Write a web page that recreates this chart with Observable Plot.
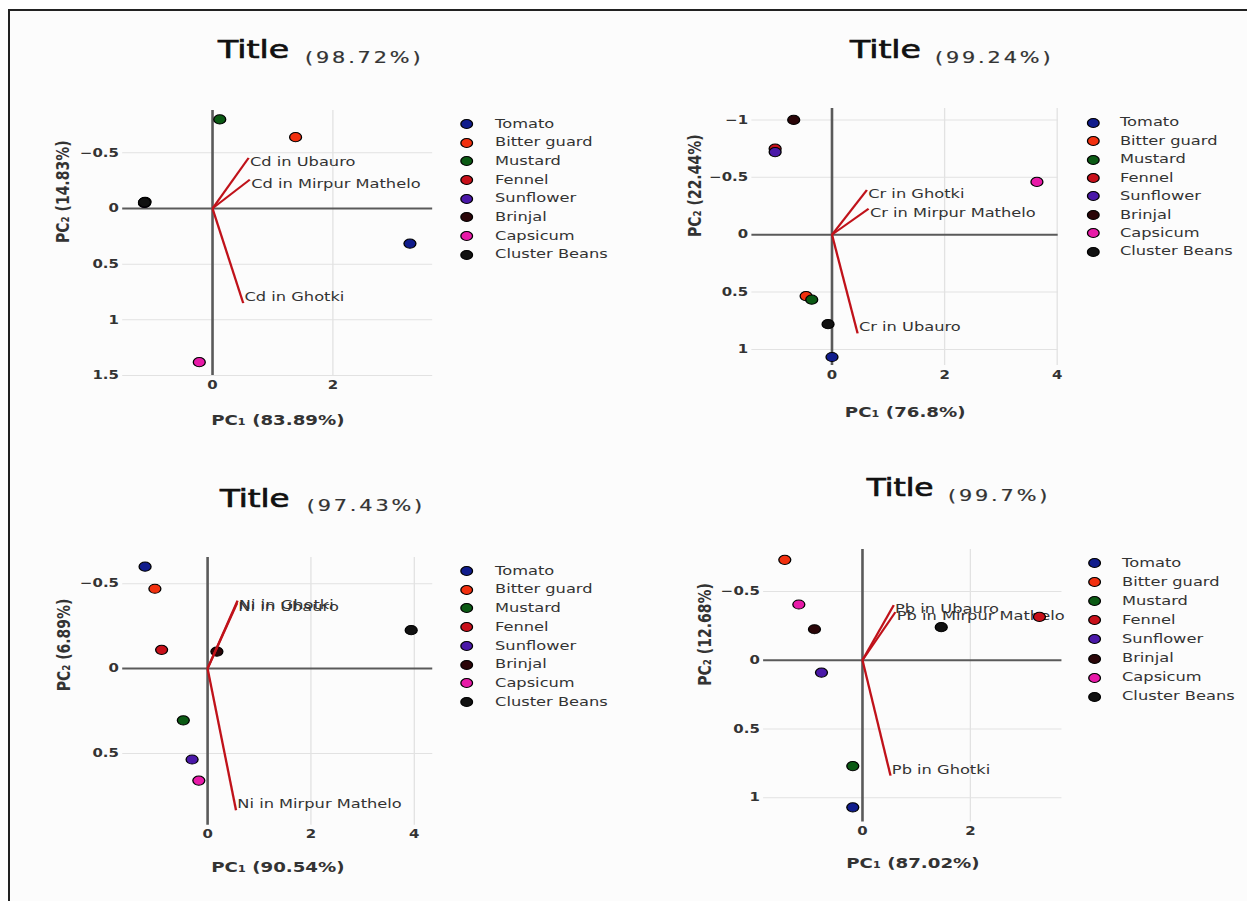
<!DOCTYPE html>
<html>
<head>
<meta charset="utf-8">
<script src="https://cdn.jsdelivr.net/npm/d3@7"></script>
<script src="https://cdn.jsdelivr.net/npm/@observablehq/plot@0.6"></script>
<style>
html, body { margin: 0; padding: 0; background: #fff; }
#page { position: relative; width: 1247px; height: 901px; overflow: hidden; background: #fff; }
#frame { position: absolute; left: 8px; top: 9px; width: 1245px; height: 900px; border-left: 2px solid #222; border-top: 2px solid #222; background: #fcfcfc; }
#stage { position: absolute; left: 0; top: 0; width: 960px; height: 901px; transform: scaleX(1.3); transform-origin: 0 0; font-family: "DejaVu Sans", sans-serif; }
.panel { position: absolute; }
.ttl { position: absolute; white-space: nowrap; line-height: 1; color: #111; -webkit-text-stroke: 0.7px #111; }
.pct { position: absolute; white-space: nowrap; line-height: 1; font-size: 16px; letter-spacing: 2.2px; color: #333; -webkit-text-stroke: 0.2px #333; }
.legend { position: absolute; }
.lrow { position: absolute; left: 0; height: 12px; display: flex; align-items: center; white-space: nowrap; }
.ldot { display: inline-block; width: 10px; height: 10px; box-sizing: border-box; border: 1px solid #000; border-radius: 50%; }
.ltxt { font-size: 12.5px; color: #333; line-height: 1; }
</style>
</head>
<body>
<div id="page">
  <div id="frame"></div>
  <div id="stage"></div>
</div>
<script>
// ---------- data ----------
const species = ["Tomato", "Bitter guard", "Mustard", "Fennel", "Sunflower", "Brinjal", "Capsicum", "Cluster Beans"];
const speciesColors = ["#101c8c", "#f2300f", "#0b5a14", "#c8101a", "#4a18a8", "#2a0508", "#e81aa8", "#111111"];

const titleWords = ["Title", "Title", "Title", "Title"];
const titlePercents = ["(98.72%)", "(99.24%)", "(97.43%)", "(99.7%)"];
const xTitles = ["PC\u2081 (83.89%)", "PC\u2081 (76.8%)", "PC\u2081 (90.54%)", "PC\u2081 (87.02%)"];
const yTitles = ["PC\u2082 (14.83%)", "PC\u2082 (22.44%)", "PC\u2082 (6.89%)", "PC\u2082 (12.68%)"];

// Cd
const cdPC1 = [3.28, 1.38, 0.12, -1.13, -1.13, -1.12, -0.22, -1.13];
const cdPC2 = [0.315, -0.64, -0.80, -0.05, -0.05, -0.06, 1.38, -0.055];
const cdLoadNames = ["Cd in Ghotki", "Cd in Ubauro", "Cd in Mirpur Mathelo"];
const cdLoadPC1 = [0.51, 0.60, 0.62];
const cdLoadPC2 = [0.85, -0.455, -0.26];
const cdXTicks = [0, 2];
const cdYTicks = [-0.5, 0, 0.5, 1, 1.5];

// Cr
const crPC1 = [0.0, -0.46, -0.36, -1.01, -1.01, -0.68, 3.64, -0.07];
const crPC2 = [1.066, 0.535, 0.566, -0.75, -0.72, -1.0, -0.46, 0.78];
const crLoadNames = ["Cr in Ghotki", "Cr in Mirpur Mathelo", "Cr in Ubauro"];
const crLoadPC1 = [0.62, 0.65, 0.455];
const crLoadPC2 = [-0.39, -0.226, 0.86];
const crXTicks = [0, 2, 4];
const crYTicks = [-1, -0.5, 0, 0.5, 1];

// Ni
const niPC1 = [-1.21, -1.02, -0.47, -0.89, -0.30, 0.18, -0.17, 3.94];
const niPC2 = [-0.60, -0.47, 0.305, -0.11, 0.536, -0.10, 0.66, -0.226];
const niLoadNames = ["Ni in Ghotki", "Ni in Ubauro", "Ni in Mirpur Mathelo"];
const niLoadPC1 = [0.58, 0.57, 0.55];
const niLoadPC2 = [-0.40, -0.385, 0.835];
const niXTicks = [0, 2, 4];
const niYTicks = [-0.5, 0, 0.5];

// Pb
const pbPC1 = [-0.18, -1.44, -0.18, 3.28, -0.76, -0.89, -1.18, 1.46];
const pbPC2 = [1.07, -0.73, 0.77, -0.315, 0.09, -0.225, -0.405, -0.24];
const pbLoadNames = ["Pb in Ghotki", "Pb in Ubauro", "Pb in Mirpur Mathelo"];
const pbLoadPC1 = [0.52, 0.58, 0.61];
const pbLoadPC2 = [0.84, -0.40, -0.35];
const pbXTicks = [0, 2];
const pbYTicks = [-0.5, 0, 0.5, 1];

// ---------- layout (container units; the stage is stretched 1.3x horizontally) ----------
const layout = [
  {pc1: cdPC1, pc2: cdPC2, ln: cdLoadNames, l1: cdLoadPC1, l2: cdLoadPC2, xt: cdXTicks, yt: cdYTicks,
   left: 33.85, top: 100, w: 308.45, h: 345, xd: [-1.49, 3.66], yd: [-0.88, 1.5], yDx: -45.7, xDy: 50,
   tL: 167.7, tB: 59, tSize: 25.5, pL: 234.6, pB: 63.3,
   lgX: 353.5, lgT: 124, lgS: 18.67, lgGap: 17.3},
  {pc1: crPC1, pc2: crPC2, ln: crLoadNames, l1: crLoadPC1, l2: crLoadPC2, xt: crXTicks, yt: crYTicks,
   left: 518.2, top: 98, w: 305.6, h: 337, xd: [-1.42, 4.02], yd: [-1.10, 1.14], yDx: -43.6, xDy: 51.7,
   tL: 653.8, tB: 58.3, tSize: 25.5, pL: 719.2, pB: 63.3,
   lgX: 836, lgT: 122.7, lgS: 18.43, lgGap: 15.5},
  {pc1: niPC1, pc2: niPC2, ln: niLoadNames, l1: niLoadPC1, l2: niLoadPC2, xt: niXTicks, yt: niYTicks,
   left: 33.6, top: 547.3, w: 308.5, h: 347.7, xd: [-1.64, 4.36], yd: [-0.654, 0.923], yDx: -45.5, xDy: 46.7,
   tL: 169.2, tB: 506.7, tSize: 25, pL: 235.9, pB: 511.7,
   lgX: 353.5, lgT: 571, lgS: 18.7, lgGap: 17.3},
  {pc1: pbPC1, pc2: pbPC2, ln: pbLoadNames, l1: pbLoadPC1, l2: pbLoadPC2, xt: pbXTicks, yt: pbYTicks,
   left: 527.2, top: 539.3, w: 299.5, h: 352.4, xd: [-1.83, 3.70], yd: [-0.805, 1.176], yDx: -44.9, xDy: 46.3,
   tL: 666.7, tB: 496.7, tSize: 24, pL: 729.2, pB: 501.7,
   lgX: 837.3, lgT: 563, lgS: 19.1, lgGap: 15.8}
];

const stage = document.getElementById("stage");
const fmt = d3.format("~g");
const font = "DejaVu Sans";

layout.forEach((cfg, k) => {
  const pts = species.map((s, i) => ({species: s, pc1: cfg.pc1[i], pc2: cfg.pc2[i]}));
  const loads = cfg.ln.map((n, i) => ({name: n, pc1: cfg.l1[i], pc2: cfg.l2[i]}));
  const labelOpts = {x: "pc1", y: "pc2", text: "name", textAnchor: "start", dx: 1, fontSize: 12.5, fill: "#333", fontFamily: font};

  const chart = Plot.plot({
    width: cfg.w, height: cfg.h,
    marginLeft: 60, marginRight: 10, marginTop: 10, marginBottom: 70,
    style: {fontFamily: font, background: "transparent", overflow: "visible"},
    x: {domain: cfg.xd, label: null},
    y: {domain: cfg.yd, reverse: true, label: null},
    color: {domain: species, range: speciesColors},
    marks: [
      Plot.gridX({ticks: cfg.xt.filter(d => d !== 0), stroke: "#e2e2e2", strokeOpacity: 1, strokeWidth: 1}),
      Plot.gridY({ticks: cfg.yt.filter(d => d !== 0), stroke: "#e2e2e2", strokeOpacity: 1, strokeWidth: 1}),
      Plot.ruleY([0], {stroke: "#5a5a5a", strokeWidth: 2}),
      Plot.ruleX([0], {stroke: "#5a5a5a", strokeWidth: 2}),
      Plot.axisX({ticks: cfg.xt, tickSize: 0, tickPadding: 5, tickFormat: fmt, label: null,
                  fontSize: 11.5, fontWeight: "bold", fill: "#333"}),
      Plot.axisY({ticks: cfg.yt, tickSize: 0, tickPadding: 3, tickFormat: fmt, label: null,
                  fontSize: 11.5, fontWeight: "bold", fill: "#333"}),
      Plot.text(loads.filter(d => d.pc2 < 0), {...labelOpts, dy: 4}),
      Plot.text(loads.filter(d => d.pc2 >= 0), {...labelOpts, dy: -6}),
      Plot.dot(pts, {x: "pc1", y: "pc2", fill: "species", r: 4.6, stroke: "#000", strokeWidth: 1}),
      Plot.link(loads, {x1: () => 0, y1: () => 0, x2: "pc1", y2: "pc2", stroke: "#c0121a", strokeWidth: 1.8}),
      Plot.text([yTitles[k]], {text: d => d, frameAnchor: "left", dx: cfg.yDx, rotate: -90,
                  fontSize: 14, fontWeight: "bold", fill: "#333", fontFamily: font}),
      Plot.text([xTitles[k]], {text: d => d, frameAnchor: "bottom", dy: cfg.xDy,
                  fontSize: 14, fontWeight: "bold", fill: "#333", fontFamily: font})
    ]
  });
  const holder = document.createElement("div");
  holder.className = "panel";
  holder.style.left = cfg.left + "px";
  holder.style.top = cfg.top + "px";
  holder.style.width = cfg.w + "px";
  holder.style.height = cfg.h + "px";
  holder.appendChild(chart);
  stage.appendChild(holder);

  // title
  const t = document.createElement("div");
  t.className = "ttl";
  t.style.fontSize = cfg.tSize + "px";
  t.style.left = cfg.tL + "px";
  t.style.top = (cfg.tB - 0.846 * cfg.tSize) + "px";
  t.textContent = titleWords[k];
  stage.appendChild(t);
  const p = document.createElement("div");
  p.className = "pct";
  p.style.left = cfg.pL + "px";
  p.style.top = (cfg.pB - 0.846 * 16) + "px";
  p.textContent = titlePercents[k];
  stage.appendChild(p);

  // legend
  const lg = document.createElement("div");
  lg.className = "legend";
  lg.style.left = cfg.lgX + "px";
  lg.style.top = (cfg.lgT - 6) + "px";
  species.forEach((s, i) => {
    const row = document.createElement("div");
    row.className = "lrow";
    row.style.top = (i * cfg.lgS) + "px";
    const dot = document.createElement("span");
    dot.className = "ldot";
    dot.style.background = speciesColors[i];
    const txt = document.createElement("span");
    txt.className = "ltxt";
    txt.style.marginLeft = cfg.lgGap + "px";
    txt.textContent = s;
    row.appendChild(dot);
    row.appendChild(txt);
    lg.appendChild(row);
  });
  stage.appendChild(lg);
});
</script>
</body>
</html>
